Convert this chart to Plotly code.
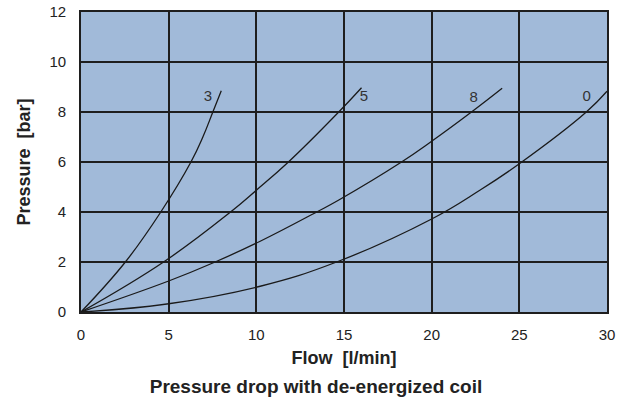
import plotly.graph_objects as go

# ---- data ----
flow_3 = [0, 2.53, 4.55, 6.27, 6.95, 7.52, 8.0]
pres_3 = [0, 2.0, 4.0, 6.0, 7.0, 8.0, 8.85]

flow_5 = [0, 4.71, 8.53, 10.0, 11.83, 14.7, 16.0]
pres_5 = [0, 2.0, 4.0, 4.87, 6.0, 8.0, 8.97]

flow_8 = [0, 5.0, 7.65, 10.22, 13.44, 14.68, 18.28, 20.0, 22.27, 24.02]
pres_8 = [0, 1.24, 2.0, 2.83, 4.0, 4.47, 6.0, 6.83, 8.0, 8.95]

flow_0 = [0, 5.0, 10.22, 14.58, 20.0, 22.7, 25.0, 28.82, 30.0]
pres_0 = [0, 0.33, 1.03, 2.0, 3.72, 4.85, 5.93, 8.0, 8.83]

curve_names = ["3", "5", "8", "0"]
label_x = [7.24, 16.14, 22.4, 28.84]
label_y = [8.6, 8.58, 8.56, 8.59]

x_ticks = [0, 5, 10, 15, 20, 25, 30]
y_ticks = [0, 2, 4, 6, 8, 10, 12]

FONT = "Liberation Sans, Arial, sans-serif"

fig = go.Figure()
for fx, py, nm in zip([flow_3, flow_5, flow_8, flow_0],
                      [pres_3, pres_5, pres_8, pres_0], curve_names):
    fig.add_trace(go.Scatter(x=fx, y=py, mode="lines", name=nm,
                             line=dict(color="#1a1a1a", width=1.3, shape="spline", smoothing=1.2),
                             showlegend=False, hoverinfo="skip"))

fig.add_trace(go.Scatter(x=label_x, y=label_y, mode="text", text=curve_names,
                         textfont=dict(family=FONT, size=15, color="#333333"),
                         showlegend=False, hoverinfo="skip"))

fig.update_layout(
    width=632, height=402,
    margin=dict(l=81, r=25, t=12, b=90),
    paper_bgcolor="white",
    plot_bgcolor="#A1BAD9",
    font=dict(family=FONT, size=15, color="#222222"),
    title=dict(text="<b>Pressure drop with de-energized coil</b>",
               x=0.5, xanchor="center", xref="container",
               y=1 - 386 / 402, yanchor="middle", yref="container",
               font=dict(family=FONT, size=19, color="#222222")),
)
fig.update_xaxes(range=[0, 30], tickvals=x_ticks, ticktext=[str(v) for v in x_ticks],
                 showgrid=True, gridcolor="#1e1e1e", gridwidth=1.6,
                 showline=True, linecolor="#1e1e1e", linewidth=1.6, mirror=True,
                 zeroline=False, ticks="", ticklabelstandoff=8, automargin=False,
                 tickfont=dict(family=FONT, size=15, color="#222222"),
                 title=dict(text="<b>Flow&nbsp;&nbsp;[l/min]</b>", standoff=10,
                            font=dict(family=FONT, size=18, color="#222222")))
fig.update_yaxes(range=[0, 12], tickvals=y_ticks, ticktext=[str(v) for v in y_ticks],
                 showgrid=True, gridcolor="#1e1e1e", gridwidth=1.6,
                 showline=True, linecolor="#1e1e1e", linewidth=1.6, mirror=True,
                 zeroline=False, ticks="", ticklabelstandoff=10, automargin=False,
                 tickfont=dict(family=FONT, size=15, color="#222222"),
                 title=dict(text="<b>Pressure&nbsp;&nbsp;[bar]</b>", standoff=14,
                            font=dict(family=FONT, size=18, color="#222222")))

fig.write_html("out.html", config={"displayModeBar": False},
               post_script="document.body.style.margin='0';")
